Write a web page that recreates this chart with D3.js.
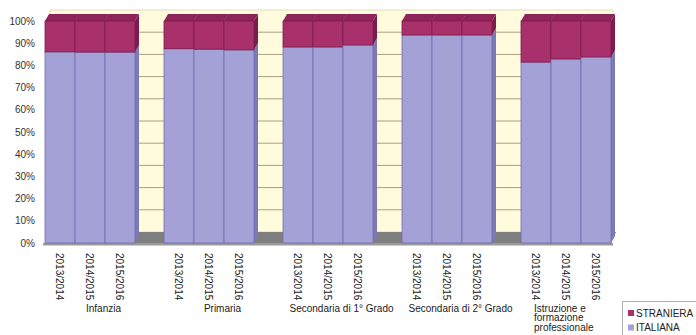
<!DOCTYPE html>
<html>
<head>
<meta charset="utf-8">
<script src="https://cdn.jsdelivr.net/npm/d3@7"></script>
<style>
  html, body { margin: 0; padding: 0; background: #fff; }
  svg { display: block; font-family: "Liberation Sans", Arial, sans-serif; }
</style>
</head>
<body>
<svg id="chart" width="696" height="335"></svg>
<script>
// School levels, school years and the share of pupils by citizenship (%)
const categories = ["Infanzia", "Primaria", "Secondaria di 1° Grado", "Secondaria di 2° Grado", "Istruzione e formazione professionale"];
const years = ["2013/2014", "2014/2015", "2015/2016"];
const italiana = [
  [86.1, 86.0, 86.0],
  [87.5, 87.3, 87.0],
  [88.3, 88.3, 89.2],
  [93.7, 93.7, 93.7],
  [81.5, 82.9, 83.8]
];
const straniera = [
  [13.9, 14.0, 14.0],
  [12.5, 12.7, 13.0],
  [11.7, 11.7, 10.8],
  [6.3, 6.3, 6.3],
  [18.5, 17.1, 16.2]
];
const yTicks = [0, 10, 20, 30, 40, 50, 60, 70, 80, 90, 100];
const seriesNames = ["STRANIERA", "ITALIANA"];

const colors = {
  ITALIANA: { front: "#a3a1d6", top: "#8f8dc6", side: "#7c7ab4", edge: "#6f6db0" },
  STRANIERA: { front: "#a8306b", top: "#8e2459", side: "#7b1d4c", edge: "#7d1d4d" }
};

const svg = d3.select("#chart");

// Front plane scales
const x = d3.scaleBand().domain(categories).range([45, 611]).paddingInner(29 / 119).paddingOuter(0).align(0);
const xYear = d3.scaleBand().domain(years).range([0, x.bandwidth()]).padding(0);
const y = d3.scaleLinear().domain([0, 100]).range([243, 21]);

// 3D offsets: bar depth and back wall depth
const bar = { dx: 4, dy: -7 };
const wall = { dx: 5, dy: -11 };

// Back wall with gridlines
const wallLeft = 45 + wall.dx, wallRight = 611 + 2;
svg.append("rect")
  .attr("x", wallLeft).attr("y", y(100) + wall.dy)
  .attr("width", wallRight - wallLeft).attr("height", y(0) - y(100))
  .attr("fill", "#fffbdc").attr("stroke", "#c9c6a8").attr("stroke-width", 0.6);
svg.append("g").selectAll("line").data(yTicks.slice(1, -1)).join("line")
  .attr("x1", wallLeft).attr("x2", wallRight)
  .attr("y1", d => y(d) + wall.dy).attr("y2", d => y(d) + wall.dy)
  .attr("stroke", "#a3a283").attr("stroke-width", 1);

// Floor
svg.append("polygon")
  .attr("points", [
    [45, y(0)], [611, y(0)], [611 + wall.dx, y(0) + wall.dy], [45 + wall.dx, y(0) + wall.dy]
  ].map(p => p.join(",")).join(" "))
  .attr("fill", "#7f7f7f");
svg.append("rect").attr("x", 43).attr("y", y(0)).attr("width", 570).attr("height", 2.5).attr("fill", "#9a9a9a");

// Stacked bars
const rows = [];
categories.forEach((c, i) => {
  years.forEach((yr, j) => {
    const x0 = x(c) + xYear(yr);
    rows.push({ x0, w: xYear.bandwidth(), segs: [
      { name: "ITALIANA", v0: 0, v1: italiana[i][j] },
      { name: "STRANIERA", v0: italiana[i][j], v1: italiana[i][j] + straniera[i][j] }
    ]});
  });
});

const bars = svg.append("g");
rows.forEach(r => {
  const g = bars.append("g");
  r.segs.forEach(s => {
    const c = colors[s.name];
    const xl = r.x0, xr = r.x0 + r.w, yt = y(s.v1), yb = y(s.v0);
    // right side face
    g.append("polygon")
      .attr("points", [[xr, yb], [xr + bar.dx, yb + bar.dy], [xr + bar.dx, yt + bar.dy], [xr, yt]].map(p => p.join(",")).join(" "))
      .attr("fill", c.side);
    // top face
    g.append("polygon")
      .attr("points", [[xl, yt], [xl + bar.dx, yt + bar.dy], [xr + bar.dx, yt + bar.dy], [xr, yt]].map(p => p.join(",")).join(" "))
      .attr("fill", c.top);
    // front face
    g.append("rect")
      .attr("x", xl).attr("y", yt).attr("width", r.w).attr("height", yb - yt)
      .attr("fill", c.front).attr("stroke", c.edge).attr("stroke-width", 0.8);
  });
});

// Y axis labels
svg.append("g").selectAll("text").data(yTicks).join("text")
  .attr("x", 35).attr("y", d => y(d) + 3.5)
  .attr("text-anchor", "end").attr("font-size", 10).attr("fill", "#333")
  .text(d => d + "%");

// Year labels, rotated
svg.append("g").selectAll("text").data(rows.map((r, k) => ({ cx: r.x0 + r.w / 2, label: years[k % 3] }))).join("text")
  .attr("transform", d => `translate(${d.cx - 0.5},253) rotate(90)`)
  .attr("dy", "0.35em").attr("font-size", 10).attr("fill", "#222")
  .text(d => d.label);

// Category labels
const catG = svg.append("g").attr("font-size", 10).attr("fill", "#222");
categories.forEach((c, i) => {
  if (i < 4) {
    catG.append("text")
      .attr("x", x(c) + x.step() / 2 - 1).attr("y", 312)
      .attr("text-anchor", "middle").text(c);
  } else {
    const lines = ["Istruzione e", "formazione", "professionale"];
    lines.forEach((t, k) => {
      catG.append("text").attr("x", x(c) + 13).attr("y", 311.5 + k * 9.5).text(t);
    });
  }
});

// Legend
const leg = svg.append("g");
leg.append("rect").attr("x", 622.5).attr("y", 301.5).attr("width", 80).attr("height", 40)
  .attr("fill", "#fff").attr("stroke", "#b0b0b0").attr("stroke-width", 1);
seriesNames.forEach((n, k) => {
  leg.append("rect").attr("x", 628).attr("y", 310 + k * 14.5).attr("width", 6).attr("height", 6)
    .attr("fill", colors[n].front);
  leg.append("text").attr("x", 636).attr("y", 316.5 + k * 14.5)
    .attr("font-size", 10).attr("fill", "#222").text(n);
});
</script>
</body>
</html>
